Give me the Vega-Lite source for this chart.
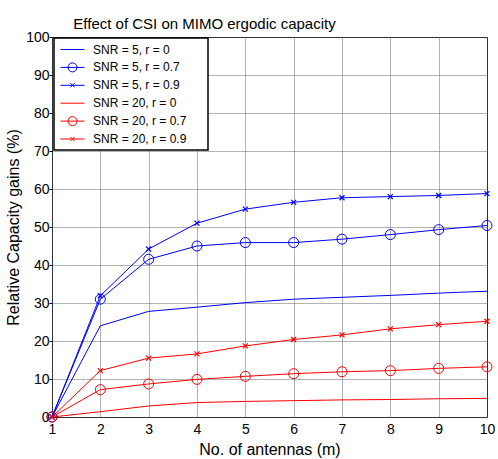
{
  "$schema": "https://vega.github.io/schema/vega-lite/v6.json",
  "width": 435,
  "height": 380,
  "autosize": {"type": "none"},
  "padding": {"left": 52, "top": 37, "right": 11, "bottom": 42},
  "background": "white",
  "title": {"text": "Effect of CSI on MIMO ergodic capacity", "anchor": "middle", "frame": "group", "dx": -65, "offset": -2, "fontSize": 15, "fontWeight": "normal", "font": "Liberation Sans", "color": "black"},
  "config": {
    "view": {"stroke": "#000", "strokeWidth": 1},
    "axis": {"labelFont": "Liberation Sans", "labelFontSize": 14, "labelColor": "black", "titleFont": "Liberation Sans", "titleFontSize": 16, "titleFontWeight": "normal", "titleColor": "black", "gridColor": "#666", "gridDash": [1, 1], "gridOpacity": 1, "gridWidth": 1, "domain": false, "tickColor": "black"},
    "legend": {"strokeWidth": 1.5}
  },
  "data": {"values": [
    {"m": 1, "gain": 0, "series": "SNR = 5, r = 0", "marker": "none"},
    {"m": 2, "gain": 24.0, "series": "SNR = 5, r = 0", "marker": "none"},
    {"m": 3, "gain": 27.8, "series": "SNR = 5, r = 0", "marker": "none"},
    {"m": 4, "gain": 28.9, "series": "SNR = 5, r = 0", "marker": "none"},
    {"m": 5, "gain": 30.1, "series": "SNR = 5, r = 0", "marker": "none"},
    {"m": 6, "gain": 31.0, "series": "SNR = 5, r = 0", "marker": "none"},
    {"m": 7, "gain": 31.5, "series": "SNR = 5, r = 0", "marker": "none"},
    {"m": 8, "gain": 32.0, "series": "SNR = 5, r = 0", "marker": "none"},
    {"m": 9, "gain": 32.6, "series": "SNR = 5, r = 0", "marker": "none"},
    {"m": 10, "gain": 33.1, "series": "SNR = 5, r = 0", "marker": "none"},
    {"m": 1, "gain": 0, "series": "SNR = 5, r = 0.7", "marker": "circle"},
    {"m": 2, "gain": 31.0, "series": "SNR = 5, r = 0.7", "marker": "circle"},
    {"m": 3, "gain": 41.5, "series": "SNR = 5, r = 0.7", "marker": "circle"},
    {"m": 4, "gain": 45.0, "series": "SNR = 5, r = 0.7", "marker": "circle"},
    {"m": 5, "gain": 45.9, "series": "SNR = 5, r = 0.7", "marker": "circle"},
    {"m": 6, "gain": 45.9, "series": "SNR = 5, r = 0.7", "marker": "circle"},
    {"m": 7, "gain": 46.8, "series": "SNR = 5, r = 0.7", "marker": "circle"},
    {"m": 8, "gain": 48.0, "series": "SNR = 5, r = 0.7", "marker": "circle"},
    {"m": 9, "gain": 49.3, "series": "SNR = 5, r = 0.7", "marker": "circle"},
    {"m": 10, "gain": 50.4, "series": "SNR = 5, r = 0.7", "marker": "circle"},
    {"m": 1, "gain": 0, "series": "SNR = 5, r = 0.9", "marker": "x"},
    {"m": 2, "gain": 31.9, "series": "SNR = 5, r = 0.9", "marker": "x"},
    {"m": 3, "gain": 44.2, "series": "SNR = 5, r = 0.9", "marker": "x"},
    {"m": 4, "gain": 51.0, "series": "SNR = 5, r = 0.9", "marker": "x"},
    {"m": 5, "gain": 54.7, "series": "SNR = 5, r = 0.9", "marker": "x"},
    {"m": 6, "gain": 56.5, "series": "SNR = 5, r = 0.9", "marker": "x"},
    {"m": 7, "gain": 57.7, "series": "SNR = 5, r = 0.9", "marker": "x"},
    {"m": 8, "gain": 58.0, "series": "SNR = 5, r = 0.9", "marker": "x"},
    {"m": 9, "gain": 58.3, "series": "SNR = 5, r = 0.9", "marker": "x"},
    {"m": 10, "gain": 58.8, "series": "SNR = 5, r = 0.9", "marker": "x"},
    {"m": 1, "gain": 0, "series": "SNR = 20, r = 0", "marker": "none"},
    {"m": 2, "gain": 1.4, "series": "SNR = 20, r = 0", "marker": "none"},
    {"m": 3, "gain": 2.9, "series": "SNR = 20, r = 0", "marker": "none"},
    {"m": 4, "gain": 3.8, "series": "SNR = 20, r = 0", "marker": "none"},
    {"m": 5, "gain": 4.1, "series": "SNR = 20, r = 0", "marker": "none"},
    {"m": 6, "gain": 4.3, "series": "SNR = 20, r = 0", "marker": "none"},
    {"m": 7, "gain": 4.5, "series": "SNR = 20, r = 0", "marker": "none"},
    {"m": 8, "gain": 4.6, "series": "SNR = 20, r = 0", "marker": "none"},
    {"m": 9, "gain": 4.8, "series": "SNR = 20, r = 0", "marker": "none"},
    {"m": 10, "gain": 4.9, "series": "SNR = 20, r = 0", "marker": "none"},
    {"m": 1, "gain": 0, "series": "SNR = 20, r = 0.7", "marker": "circle"},
    {"m": 2, "gain": 7.2, "series": "SNR = 20, r = 0.7", "marker": "circle"},
    {"m": 3, "gain": 8.7, "series": "SNR = 20, r = 0.7", "marker": "circle"},
    {"m": 4, "gain": 9.9, "series": "SNR = 20, r = 0.7", "marker": "circle"},
    {"m": 5, "gain": 10.7, "series": "SNR = 20, r = 0.7", "marker": "circle"},
    {"m": 6, "gain": 11.4, "series": "SNR = 20, r = 0.7", "marker": "circle"},
    {"m": 7, "gain": 11.9, "series": "SNR = 20, r = 0.7", "marker": "circle"},
    {"m": 8, "gain": 12.2, "series": "SNR = 20, r = 0.7", "marker": "circle"},
    {"m": 9, "gain": 12.8, "series": "SNR = 20, r = 0.7", "marker": "circle"},
    {"m": 10, "gain": 13.2, "series": "SNR = 20, r = 0.7", "marker": "circle"},
    {"m": 1, "gain": 0, "series": "SNR = 20, r = 0.9", "marker": "x"},
    {"m": 2, "gain": 12.2, "series": "SNR = 20, r = 0.9", "marker": "x"},
    {"m": 3, "gain": 15.5, "series": "SNR = 20, r = 0.9", "marker": "x"},
    {"m": 4, "gain": 16.6, "series": "SNR = 20, r = 0.9", "marker": "x"},
    {"m": 5, "gain": 18.7, "series": "SNR = 20, r = 0.9", "marker": "x"},
    {"m": 6, "gain": 20.4, "series": "SNR = 20, r = 0.9", "marker": "x"},
    {"m": 7, "gain": 21.6, "series": "SNR = 20, r = 0.9", "marker": "x"},
    {"m": 8, "gain": 23.2, "series": "SNR = 20, r = 0.9", "marker": "x"},
    {"m": 9, "gain": 24.3, "series": "SNR = 20, r = 0.9", "marker": "x"},
    {"m": 10, "gain": 25.2, "series": "SNR = 20, r = 0.9", "marker": "x"}
  ]},
  "encoding": {
    "x": {"field": "m", "type": "quantitative", "scale": {"domain": [1, 10], "nice": false, "zero": false},
          "axis": {"values": [1, 2, 3, 4, 5, 6, 7, 8, 9, 10], "title": "No. of antennas (m)", "grid": true, "ticks": false, "labelPadding": 5, "titlePadding": 5, "labelFlush": false}},
    "y": {"field": "gain", "type": "quantitative", "scale": {"domain": [0, 100], "nice": false},
          "axis": {"values": [0, 10, 20, 30, 40, 50, 60, 70, 80, 90, 100], "title": "Relative Capacity gains (%)", "grid": true, "ticks": true, "tickSize": 3, "labelPadding": 0, "titlePadding": 4, "labelFlush": false, "labelOverlap": false}}
  },
  "layer": [
    {
      "mark": {"type": "line", "strokeWidth": 1},
      "encoding": {
        "color": {"field": "series", "type": "nominal",
                  "sort": ["SNR = 5, r = 0", "SNR = 5, r = 0.7", "SNR = 5, r = 0.9", "SNR = 20, r = 0", "SNR = 20, r = 0.7", "SNR = 20, r = 0.9"],
                  "scale": {"range": ["#0000ff", "#0000ff", "#0000ff", "#ff0000", "#ff0000", "#ff0000"]},
                  "legend": null}
      }
    },
    {
      "transform": [{"filter": "datum.marker == 'circle'"}],
      "mark": {"type": "point", "shape": "circle", "size": 100, "strokeWidth": 1, "filled": false, "opacity": 1},
      "encoding": {
        "color": {"field": "series", "type": "nominal",
                  "sort": ["SNR = 5, r = 0", "SNR = 5, r = 0.7", "SNR = 5, r = 0.9", "SNR = 20, r = 0", "SNR = 20, r = 0.7", "SNR = 20, r = 0.9"],
                  "legend": null}
      }
    },
    {
      "transform": [{"filter": "datum.marker == 'x'"}],
      "mark": {"type": "point", "shape": "M-1,-1L1,1M-1,1L1,-1", "size": 25, "strokeWidth": 1.2, "filled": false, "opacity": 1},
      "encoding": {
        "color": {"field": "series", "type": "nominal",
                  "sort": ["SNR = 5, r = 0", "SNR = 5, r = 0.7", "SNR = 5, r = 0.9", "SNR = 20, r = 0", "SNR = 20, r = 0.7", "SNR = 20, r = 0.9"],
                  "legend": null}
      }
    },
    {
      "mark": {"type": "point", "opacity": 0, "filled": false},
      "encoding": {
        "stroke": {"field": "series", "type": "nominal",
                  "scale": {"domain": ["SNR = 5, r = 0", "SNR = 5, r = 0.7", "SNR = 5, r = 0.9", "SNR = 20, r = 0", "SNR = 20, r = 0.7", "SNR = 20, r = 0.9"],
                            "range": ["blue", "blue", "blue", "red", "red", "red"]},
                  "legend": {"title": " ", "titleOrient": "right", "titlePadding": 17, "titleFontSize": 10, "orient": "none", "legendX": 2, "legendY": 1, "strokeColor": "black", "fillColor": "white", "padding": 5, "symbolOffset": 7, "labelOffset": 14, "rowPadding": 4.9, "labelFontSize": 12, "labelFont": "Liberation Sans", "labelColor": "black", "symbolSize": 144, "symbolStrokeWidth": 1, "symbolOpacity": 1, "cornerRadius": 0}},
        "shape": {"field": "series", "type": "nominal",
                  "scale": {"domain": ["SNR = 5, r = 0", "SNR = 5, r = 0.7", "SNR = 5, r = 0.9", "SNR = 20, r = 0", "SNR = 20, r = 0.7", "SNR = 20, r = 0.9"],
                            "range": ["M-2,0H2", "M-2,0H2M0.75,0A0.75,0.75 0 1,1 -0.75,0A0.75,0.75 0 1,1 0.75,0", "M-2,0H2M-0.35,-0.35L0.35,0.35M-0.35,0.35L0.35,-0.35", "M-2,0H2", "M-2,0H2M0.75,0A0.75,0.75 0 1,1 -0.75,0A0.75,0.75 0 1,1 0.75,0", "M-2,0H2M-0.35,-0.35L0.35,0.35M-0.35,0.35L0.35,-0.35"]},
                  "legend": {"title": " ", "titleOrient": "right", "titlePadding": 17, "titleFontSize": 10, "orient": "none", "legendX": 2, "legendY": 1, "strokeColor": "black", "fillColor": "white", "padding": 5, "symbolOffset": 7, "labelOffset": 14, "rowPadding": 4.9, "labelFontSize": 12, "labelFont": "Liberation Sans", "labelColor": "black", "symbolSize": 144, "symbolStrokeWidth": 1, "symbolOpacity": 1, "cornerRadius": 0}}
      }
    }
  ]
}
